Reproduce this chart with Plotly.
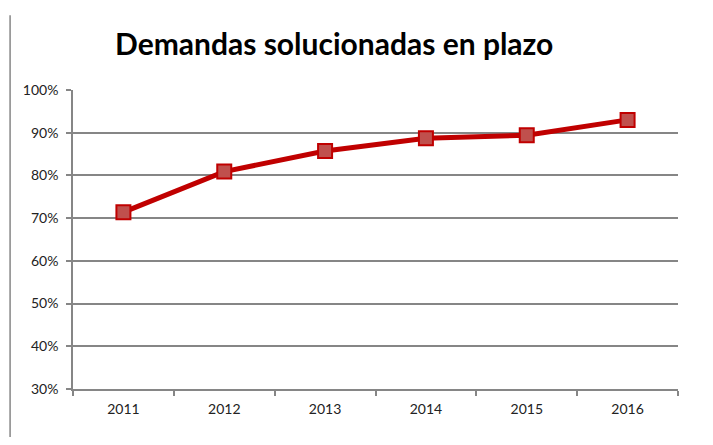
import plotly.graph_objects as go

years = ["2011", "2012", "2013", "2014", "2015", "2016"]
solved_pct = [0.714, 0.809, 0.857, 0.887, 0.894, 0.930]
y_ticks = [0.3, 0.4, 0.5, 0.6, 0.7, 0.8, 0.9, 1.0]
y_labels = ["30%", "40%", "50%", "60%", "70%", "80%", "90%", "100%"]

axis_grey = "#868686"
font = "Lato, Calibri, Carlito, sans-serif"

fig = go.Figure()
fig.add_scatter(
    x=years,
    y=solved_pct,
    mode="lines+markers",
    line=dict(color="#C00000", width=5),
    marker=dict(symbol="square", size=14, color="#C0504D", line=dict(color="#C00000", width=2)),
    showlegend=False,
)

# page body has an 8px margin, so the figure is sized to fit inside it
fig.update_layout(
    width=697,
    height=429,
    margin=dict(l=65, r=27, t=82, b=48),
    paper_bgcolor="white",
    plot_bgcolor="white",
    font=dict(family=font, size=14, color="#222222"),
    title=dict(
        text="<b>Demandas solucionadas en plazo</b>",
        x=0.468,
        xanchor="center",
        y=0.915,
        yanchor="middle",
        font=dict(family=font, size=30, color="black"),
    ),
    xaxis=dict(
        type="category",
        range=[-0.5, len(years) - 0.5],
        showgrid=False,
        showline=True,
        linecolor=axis_grey,
        linewidth=1.5,
        ticks="outside",
        tickson="boundaries",
        ticklen=5,
        tickcolor=axis_grey,
        tickwidth=1.5,
        ticklabelstandoff=6,
    ),
    yaxis=dict(
        range=[0.3, 1.0],
        tickvals=y_ticks,
        ticktext=y_labels,
        showgrid=True,
        gridcolor=axis_grey,
        gridwidth=1.5,
        showline=True,
        linecolor=axis_grey,
        linewidth=1.5,
        ticks="outside",
        ticklen=5,
        tickcolor=axis_grey,
        tickwidth=1.5,
        ticklabelstandoff=5,
        zeroline=False,
    ),
)

# left edge of the chart frame
fig.add_shape(
    type="line", xref="paper", yref="paper",
    x0=-0.104, x1=-0.104, y0=-0.2, y1=1.25,
    line=dict(color=axis_grey, width=1.5),
)

fig.write_html("out.html")
